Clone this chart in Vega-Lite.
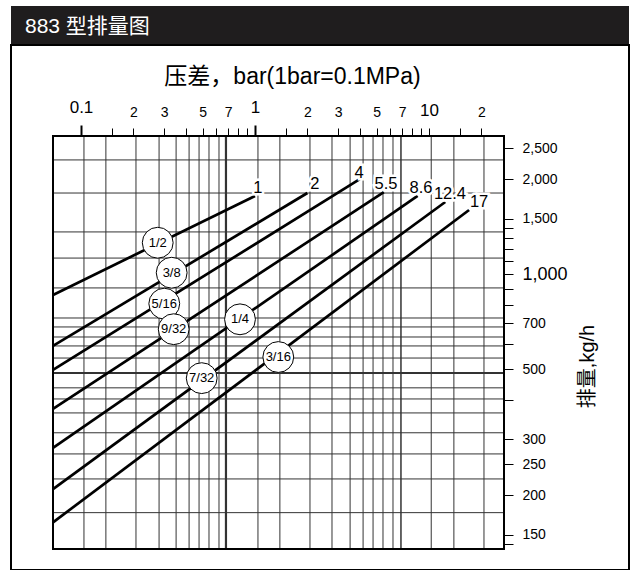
{
  "$schema": "https://vega.github.io/schema/vega-lite/v6.json",
  "background": "white",
  "padding": {"left": 10, "top": 6, "right": 5, "bottom": 0},
  "spacing": 0,
  "config": {"font": "Liberation Sans, Noto Sans CJK SC", "view": {"stroke": null}},
  "datasets": {
    "gridx": [
      {"pressure": 0.104}, {"pressure": 0.139}, {"pressure": 0.207}, {"pressure": 0.281}, {"pressure": 0.352},
      {"pressure": 0.418}, {"pressure": 0.477}, {"pressure": 0.544}, {"pressure": 0.621}, {"pressure": 0.681},
      {"pressure": 1.04}, {"pressure": 1.39}, {"pressure": 2.07}, {"pressure": 2.77}, {"pressure": 3.52},
      {"pressure": 4.18}, {"pressure": 4.77}, {"pressure": 5.44}, {"pressure": 6.21}, {"pressure": 6.9},
      {"pressure": 10.3}, {"pressure": 13.9}, {"pressure": 20.7}
    ],
    "gridy": [
      {"flow": 2300}, {"flow": 1807}, {"flow": 1361}, {"flow": 1125}, {"flow": 905}, {"flow": 727},
      {"flow": 681}, {"flow": 633}, {"flow": 593}, {"flow": 543}, {"flow": 487}, {"flow": 437},
      {"flow": 403}, {"flow": 364}, {"flow": 315}, {"flow": 270}, {"flow": 225}, {"flow": 176}
    ],
    "lines": [
      {"orifice": "1/2", "pressure": 0.06904, "flow": 860},
      {"orifice": "1/2", "pressure": 1, "flow": 1769},
      {"orifice": "3/8", "pressure": 0.06904, "flow": 593},
      {"orifice": "3/8", "pressure": 2, "flow": 1807},
      {"orifice": "5/16", "pressure": 0.06904, "flow": 498},
      {"orifice": "5/16", "pressure": 4, "flow": 2001},
      {"orifice": "9/32", "pressure": 0.06904, "flow": 375},
      {"orifice": "9/32", "pressure": 5.5, "flow": 1820},
      {"orifice": "1/4", "pressure": 0.06904, "flow": 282},
      {"orifice": "1/4", "pressure": 8.6, "flow": 1769},
      {"orifice": "7/32", "pressure": 0.06904, "flow": 209},
      {"orifice": "7/32", "pressure": 12.4, "flow": 1693},
      {"orifice": "3/16", "pressure": 0.06904, "flow": 164},
      {"orifice": "3/16", "pressure": 17, "flow": 1597}
    ],
    "circles": [
      {"orifice": "1/2", "pressure": 0.276, "flow": 1258},
      {"orifice": "3/8", "pressure": 0.332, "flow": 1011},
      {"orifice": "5/16", "pressure": 0.301, "flow": 807},
      {"orifice": "9/32", "pressure": 0.341, "flow": 670},
      {"orifice": "1/4", "pressure": 0.82, "flow": 720},
      {"orifice": "3/16", "pressure": 1.361, "flow": 547},
      {"orifice": "7/32", "pressure": 0.494, "flow": 469}
    ],
    "endlabels": [
      {"maxp": "1", "pressure": 1.04, "flow": 1875},
      {"maxp": "2", "pressure": 2.21, "flow": 1930},
      {"maxp": "4", "pressure": 3.96, "flow": 2093},
      {"maxp": "5.5", "pressure": 5.66, "flow": 1930},
      {"maxp": "8.6", "pressure": 9.0, "flow": 1875},
      {"maxp": "12.4", "pressure": 13.2, "flow": 1795},
      {"maxp": "17", "pressure": 19.4, "flow": 1693}
    ]
  },
  "vconcat": [
    {
      "width": 618,
      "height": 38,
      "view": {"fill": "#1f1d1e", "stroke": null},
      "data": {"values": [{"heading": "883 型排量图"}]},
      "mark": {"type": "text", "align": "left", "baseline": "middle", "dx": -295, "dy": 2, "color": "white", "font": "Liberation Sans, Noto Sans CJK SC", "fontSize": 21, "fontWeight": "normal"},
      "encoding": {"text": {"field": "heading"}}
    },
    {
      "width": 618,
      "height": 525,
      "view": {"stroke": "black", "strokeWidth": 2, "fill": "white"},
      "layer": [
        {
          "data": {"name": "gridx"},
          "mark": {"type": "rule", "color": "#333333"},
          "encoding": {
            "x": {"field": "pressure", "type": "quantitative"},
            "y": {"datum": 135.05},
            "y2": {"datum": 2738},
            "strokeWidth": {"condition": [{"test": "datum.pressure == 0.681", "value": 2.2}, {"test": "datum.pressure == 6.9", "value": 1.5}], "value": 1}
          }
        },
        {
          "data": {"name": "gridy"},
          "mark": {"type": "rule", "color": "#333333"},
          "encoding": {
            "y": {"field": "flow", "type": "quantitative"},
            "x": {"datum": 0.06904},
            "x2": {"datum": 26.98},
            "strokeWidth": {"condition": {"test": "datum.flow == 487", "value": 2}, "value": 1}
          }
        },
        {
          "data": {"name": "lines"},
          "mark": {"type": "line", "color": "black", "strokeWidth": 2.7},
          "encoding": {
            "x": {
              "field": "pressure", "type": "quantitative",
              "scale": {"type": "log", "domain": [0.06904, 26.98], "range": [42, 493], "nice": false, "zero": false},
              "axis": {
                "orient": "top", "offset": -91, "grid": false, "domain": false,
                "values": [0.1, 0.15, 0.2, 0.3, 0.4, 0.5, 0.6, 0.7, 0.8, 0.9, 1, 1.5, 2, 3, 4, 5, 6, 7, 8, 9, 10, 15, 20],
                "tickColor": "black",
                "tickSize": {"condition": {"test": "datum.value == 0.1 || datum.value == 1", "value": 11}, "value": 8},
                "tickWidth": {"condition": {"test": "datum.value == 0.1 || datum.value == 1", "value": 2}, "value": 1},
                "labelExpr": "datum.value == 0.1 ? '0.1' : indexof([0.2, 0.3, 0.5, 0.7], datum.value) >= 0 ? format(datum.value * 10, 'd') : indexof([1, 2, 3, 5, 7, 10], datum.value) >= 0 ? format(datum.value, 'd') : datum.value == 20 ? '2' : ''",
                "labelFont": "Liberation Sans",
                "labelFontSize": {"condition": {"test": "datum.value == 0.1 || datum.value == 1 || datum.value == 10", "value": 17}, "value": 14},
                "labelColor": "black", "labelPadding": 9, "labelFlush": false, "labelOverlap": false,
                "title": "压差，bar(1bar=0.1MPa)",
                "titleFont": "Liberation Sans, Noto Sans CJK SC", "titleFontSize": 23, "titleFontWeight": "normal", "titleColor": "black",
                "titleX": 281, "titleY": -60, "titleAlign": "center", "titleBaseline": "middle"
              }
            },
            "y": {
              "field": "flow", "type": "quantitative",
              "scale": {"type": "log", "domain": [135.05, 2738], "range": [504, 91], "nice": false, "zero": false},
              "axis": {
                "orient": "right", "offset": -125, "grid": false, "domain": false,
                "values": [140, 150, 200, 250, 300, 400, 500, 600, 700, 800, 900, 1000, 1100, 1200, 1300, 1400, 1500, 2000, 2500],
                "tickColor": "black", "tickSize": 9, "tickWidth": 1,
                "labelExpr": "indexof([150, 200, 250, 300, 500, 700, 1000, 1500, 2000, 2500], datum.value) >= 0 ? format(datum.value, ',') : ''",
                "labelFont": "Liberation Sans",
                "labelFontSize": {"condition": {"test": "datum.value == 1000", "value": 18}, "value": 14},
                "labelColor": "black", "labelPadding": 9, "labelFlush": false, "labelOverlap": false,
                "title": "排量,kg/h",
                "titleFont": "Liberation Sans, Noto Sans CJK SC", "titleFontSize": 20, "titleFontWeight": "normal", "titleColor": "black",
                "titleAngle": 270, "titleX": 83, "titleY": 321, "titleAlign": "center", "titleBaseline": "middle"
              }
            },
            "detail": {"field": "orifice"}
          }
        },
        {
          "data": {"values": [{}]},
          "mark": {"type": "rect", "fillOpacity": 0, "stroke": "black", "strokeWidth": 2},
          "encoding": {
            "x": {"datum": 0.06904},
            "x2": {"datum": 26.98},
            "y": {"datum": 135.05},
            "y2": {"datum": 2738}
          }
        },
        {
          "data": {"name": "circles"},
          "mark": {"type": "point", "shape": "circle", "filled": true, "fill": "white", "stroke": "black", "strokeWidth": 1, "size": 950, "opacity": 1, "fillOpacity": 1},
          "encoding": {
            "x": {"field": "pressure", "type": "quantitative"},
            "y": {"field": "flow", "type": "quantitative"}
          }
        },
        {
          "data": {"name": "circles"},
          "mark": {"type": "text", "fontSize": 13, "color": "black", "align": "center", "baseline": "middle", "font": "Liberation Sans"},
          "encoding": {
            "x": {"field": "pressure", "type": "quantitative"},
            "y": {"field": "flow", "type": "quantitative"},
            "text": {"field": "orifice"}
          }
        },
        {
          "data": {"name": "endlabels"},
          "mark": {"type": "text", "fontSize": 16.5, "color": "white", "stroke": "white", "strokeWidth": 5, "align": "center", "baseline": "middle", "font": "Liberation Sans"},
          "encoding": {
            "x": {"field": "pressure", "type": "quantitative"},
            "y": {"field": "flow", "type": "quantitative"},
            "text": {"field": "maxp"}
          }
        },
        {
          "data": {"name": "endlabels"},
          "mark": {"type": "text", "fontSize": 16.5, "color": "black", "align": "center", "baseline": "middle", "font": "Liberation Sans"},
          "encoding": {
            "x": {"field": "pressure", "type": "quantitative"},
            "y": {"field": "flow", "type": "quantitative"},
            "text": {"field": "maxp"}
          }
        }
      ]
    }
  ]
}
